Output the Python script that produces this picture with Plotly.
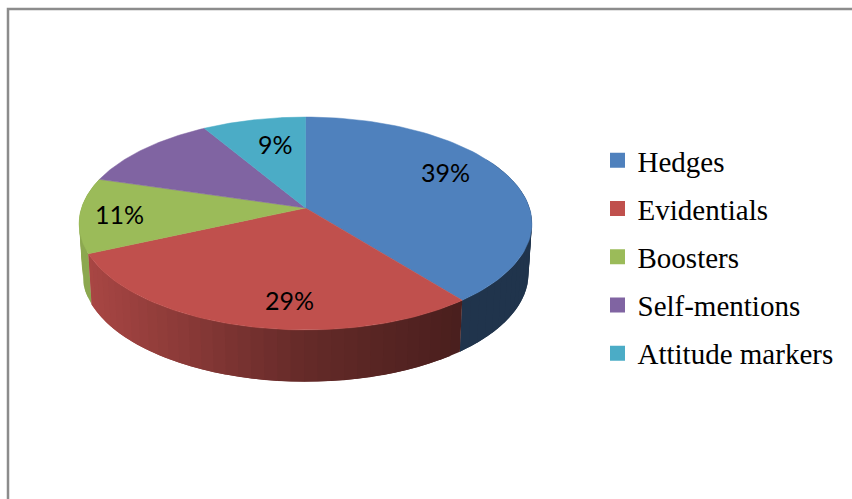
import numpy as np
import plotly.graph_objects as go

# ---- data ----
categories = ["Hedges", "Evidentials", "Boosters", "Self-mentions", "Attitude markers"]
shares = [39.4, 28.9, 11.4, 11.9, 8.5]
shown_labels = ["39%", "29%", "11%", "", "9%"]
colors = ["#4F81BD", "#C0504D", "#9BBB59", "#8064A2", "#4BACC6"]

# ---- geometry of the tilted disc, in pixels of the 852x499 page ----
W, H = 852, 499
CX, CY = 305.5, 208.0
A, B, K = 224.0, 104.2, 0.1455
DEPTH, BOTTOM_X, BOTTOM_Y = 50.0, 0.985, 1.015
LABEL_R = 0.7
LABEL_SHIFT = [(-3, -13), (25, 13), (-28, 1), (0, 0), (8, 0)]


def top(theta, r=1.0):
    """Project polar position (clockwise from north, radians) onto the page."""
    u, v = r * np.sin(theta), r * np.cos(theta)
    s = 1 + K * v
    return CX + A * u / s, CY - B * v / s


def bottom(theta):
    x, y = top(theta)
    return CX + (x - CX) * BOTTOM_X, CY + DEPTH + (y - CY) * BOTTOM_Y


def wall_shade(x):
    return np.interp(x, [80, 92, 300, 463, 532], [0.90, 0.87, 0.53, 0.38, 0.40])


def rgb(hexcolor, f=1.0):
    c = [int(hexcolor[i:i + 2], 16) for i in (1, 3, 5)]
    return "rgb({},{},{})".format(*[int(round(v * f)) for v in c])


total = sum(shares)
edges = np.concatenate([[0], np.cumsum(shares)]) / total * 2 * np.pi

fig = go.Figure()

# side wall: strips along the front of the rim, each overlapping the next one
WALL_FROM, WALL_TO = np.radians(60), np.radians(300)
STRIP = np.radians(3.0)
WALL_FIXED_SHADE = {0: 0.40, 2: 0.90}
for i in [0, 2, 1]:
    a0, a1 = max(edges[i], WALL_FROM), min(edges[i + 1], WALL_TO)
    n = int(np.ceil((a1 - a0) / STRIP))
    cuts = np.linspace(a0, a1, n + 1)
    for s0, s1 in zip(cuts[:-1], cuts[1:]):
        # every strip reaches on under its neighbour so that no seam shows
        end = min(s1 + STRIP, a1)
        ts = np.linspace(s0, end, 6)
        xt, yt = top(ts)
        xb, yb = bottom(ts[::-1])
        shade = WALL_FIXED_SHADE.get(i, wall_shade(top((s0 + s1) / 2)[0]))
        fig.add_trace(go.Scatter(
            x=np.concatenate([xt, xb]), y=np.concatenate([yt, yb]),
            mode="lines", fill="toself",
            fillcolor=rgb(colors[i], shade),
            line=dict(width=0),
            hoverinfo="skip", showlegend=False))

# top face of every slice
for i, name in enumerate(categories):
    ts = np.linspace(edges[i], edges[i + 1], 80)
    xr, yr = top(ts)
    fig.add_trace(go.Scatter(
        x=np.concatenate([[CX], xr, [CX]]), y=np.concatenate([[CY], yr, [CY]]),
        mode="lines", fill="toself", fillcolor=colors[i],
        line=dict(width=0.5, color=colors[i]),
        name=name, hoverinfo="name", showlegend=False))

# legend entries
for i, name in enumerate(categories):
    fig.add_trace(go.Scatter(
        x=[None], y=[None], mode="markers", name=name, legendgroup=name,
        marker=dict(symbol="square", size=15, color=colors[i]),
        showlegend=True))

# value labels
for i, text in enumerate(shown_labels):
    if not text:
        continue
    mid = (edges[i] + edges[i + 1]) / 2
    lx, ly = top(mid, LABEL_R)
    fig.add_annotation(x=float(lx), y=float(ly), text=text, showarrow=False,
                       xshift=LABEL_SHIFT[i][0], yshift=-LABEL_SHIFT[i][1],
                       font=dict(family="Lato", size=25, color="black"))

fig.update_layout(
    width=W, height=H, margin=dict(l=0, r=0, t=0, b=0),
    paper_bgcolor="white", plot_bgcolor="white",
    xaxis=dict(range=[0, W], visible=False, fixedrange=True),
    yaxis=dict(range=[H, 0], visible=False, fixedrange=True),
    legend=dict(x=597.5 / W, y=1 - 135.0 / H, xanchor="left", yanchor="top",
                font=dict(family="Liberation Serif", size=29, color="black"),
                tracegroupgap=7.5,
                bgcolor="rgba(0,0,0,0)", borderwidth=0),
    shapes=[dict(type="path", path=f"M 8 {H} L 8 9 L {W} 9", xref="x", yref="y",
                 line=dict(color="#8C8C8C", width=2.5))],
)

fig.write_html("out.html", config={"displayModeBar": False},
               post_script="document.body.style.margin='0';document.body.style.overflow='hidden';")
